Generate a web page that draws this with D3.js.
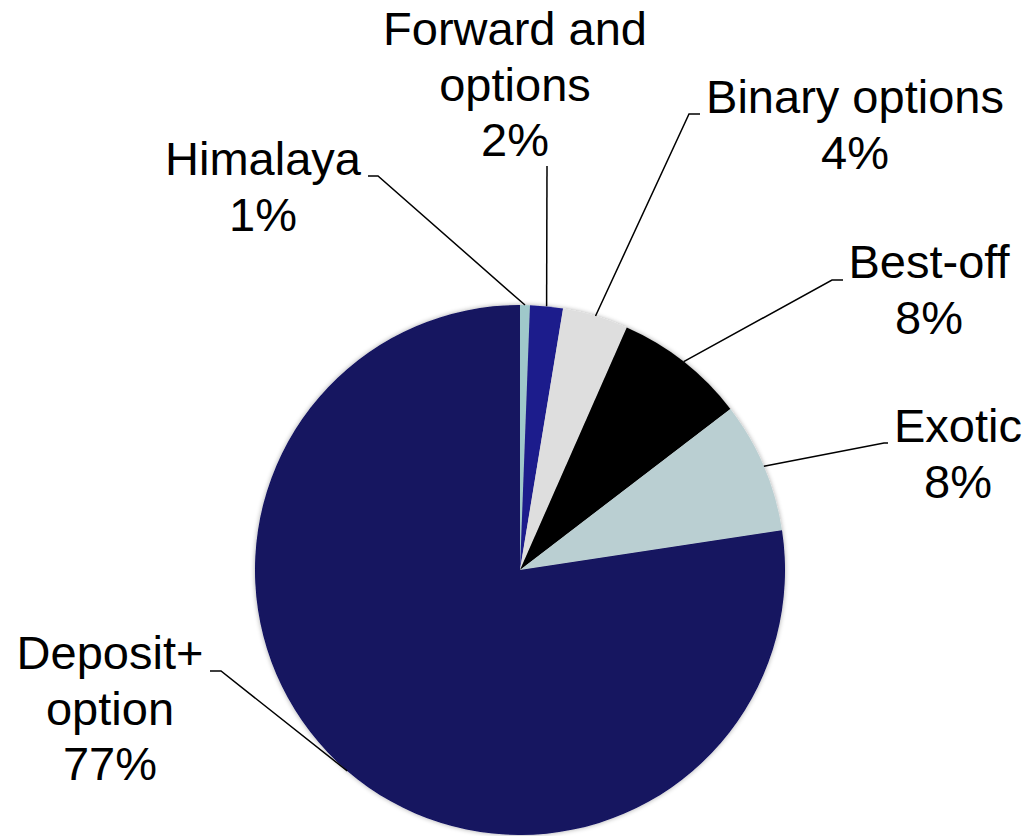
<!DOCTYPE html>
<html>
<head>
<meta charset="utf-8">
<script src="https://cdn.jsdelivr.net/npm/d3@7"></script>
<style>
  body { margin: 0; background: #fff; }
</style>
</head>
<body>
<svg id="pie" width="1030" height="836"></svg>
<script>
// Product mix pie chart
const categories = ["Himalaya", "Forward and options", "Binary options", "Best-off", "Exotic", "Deposit+ option"];
const values = [0.6, 2.0, 4.0, 8.0, 8.0, 77.4];
const labelLines = [["Himalaya"], ["Forward and", "options"], ["Binary options"], ["Best-off"], ["Exotic"], ["Deposit+", "option"]];

const svg = d3.select("#pie");
const cx = 520, cy = 570, radius = 265;

// label placement: text center x, first baseline y, elbow point of the leader line, tail direction
const labelLayout = [
  { x: 263, y: 175, elbow: [378, 176], tail: -10 },
  { x: 515, y: 45, elbow: [547, 166], tail: 0 },
  { x: 855, y: 113, elbow: [689, 114], tail: 11 },
  { x: 929, y: 278, elbow: [832, 280], tail: 11 },
  { x: 958, y: 442, elbow: [884, 443], tail: 4 },
  { x: 110, y: 669, elbow: [221, 671], tail: -11 }
];

const colors = ["#9fc8ca", "#1f1f8c", "url(#gradGray)", "#000000", "url(#gradExotic)", "#121260"];

const defs = svg.append("defs");
const gGray = defs.append("linearGradient").attr("id", "gradGray")
  .attr("gradientUnits", "userSpaceOnUse")
  .attr("x1", 0).attr("y1", cy - radius).attr("x2", 0).attr("y2", cy);
gGray.append("stop").attr("offset", 0).attr("stop-color", "#dedede");
gGray.append("stop").attr("offset", 1).attr("stop-color", "#c9c9c9");

const gEx = defs.append("linearGradient").attr("id", "gradExotic")
  .attr("gradientUnits", "userSpaceOnUse")
  .attr("x1", 0).attr("y1", cy - 170).attr("x2", 0).attr("y2", cy);
gEx.append("stop").attr("offset", 0).attr("stop-color", "#bacfd2");
gEx.append("stop").attr("offset", 1).attr("stop-color", "#91a6a8");

const shadow = defs.append("filter").attr("id", "shadow")
  .attr("x", "-10%").attr("y", "-10%").attr("width", "120%").attr("height", "120%");
shadow.append("feGaussianBlur").attr("in", "SourceAlpha").attr("stdDeviation", 2.5).attr("result", "blur");
shadow.append("feComponentTransfer").attr("in", "blur").attr("result", "soft")
  .append("feFuncA").attr("type", "linear").attr("slope", 0.35);
const merge = shadow.append("feMerge");
merge.append("feMergeNode").attr("in", "soft");
merge.append("feMergeNode").attr("in", "SourceGraphic");

const pie = d3.pie().sort(null).value((d) => d);
const arcs = pie(values);
const arc = d3.arc().innerRadius(0).outerRadius(radius);

const g = svg.append("g").attr("transform", `translate(${cx},${cy})`);

g.append("g")
  .attr("filter", "url(#shadow)")
  .selectAll("path")
  .data(arcs)
  .join("path")
  .attr("d", arc)
  .attr("fill", (d, i) => colors[i]);

// leader lines
svg.append("g")
  .attr("fill", "none")
  .attr("stroke", "#000")
  .attr("stroke-width", 1.5)
  .selectAll("path")
  .data(arcs)
  .join("path")
  .attr("d", (d, i) => {
    const a = (d.startAngle + d.endAngle) / 2;
    const px = cx + radius * Math.sin(a);
    const py = cy - radius * Math.cos(a);
    const L = labelLayout[i];
    let p = `M${px},${py} L${L.elbow[0]},${L.elbow[1]}`;
    if (L.tail) p += ` L${L.elbow[0] + L.tail},${L.elbow[1]}`;
    return p;
  });

// labels
const labels = svg.append("g")
  .attr("font-family", "Liberation Sans, Arial, sans-serif")
  .attr("font-size", 47)
  .attr("fill", "#000")
  .attr("text-anchor", "middle");

arcs.forEach((d, i) => {
  const L = labelLayout[i];
  const lines = labelLines[i].concat([Math.round(values[i]) + "%"]);
  const t = labels.append("text").attr("x", L.x).attr("y", L.y);
  lines.forEach((s, j) => {
    t.append("tspan").attr("x", L.x).attr("dy", j === 0 ? 0 : 55.5).text(s);
  });
});
</script>
</body>
</html>
